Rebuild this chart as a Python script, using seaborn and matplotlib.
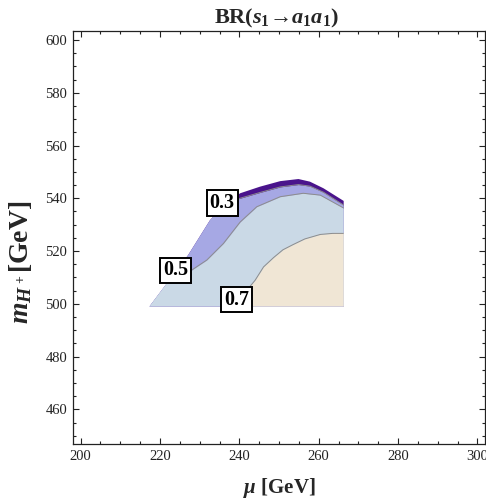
import matplotlib
matplotlib.use("Agg")
import matplotlib.pyplot as plt
from matplotlib.patches import Polygon
from matplotlib.ticker import MultipleLocator
import numpy as np
import seaborn as sns

# Outer boundary of the allowed (mu, m_H+) region: left/top edge, read left to right
edge_mu = [217.3, 221.7, 227.1, 232.6, 236.1, 240.2, 245.2, 250.3, 254.9, 257.8, 261.2, 266.3]
edge_mh = [498.9, 507.7, 518.5, 531.7, 537.3, 541.9, 544.4, 546.5, 547.3, 546.3, 543.8, 539.0]
floor_mh = 499.0

# Iso-BR contours (first point lies outside the region so each band reaches the left edge)
c03_mu = [210.0, 230.0, 234.0, 237.0, 239.7, 245.2, 250.3, 254.9, 257.8, 261.2, 266.3, 268.0]
c03_mh = [560.0, 530.0, 535.0, 538.0, 539.8, 542.2, 544.3, 545.2, 544.6, 542.3, 537.4, 536.0]

c05_mu = [210.0, 219.0, 223.0, 228.0, 231.8, 236.0, 240.2, 244.4, 250.3, 256.1, 260.4, 266.3, 268.0]
c05_mh = [530.0, 509.0, 509.5, 512.8, 516.6, 522.9, 531.0, 536.8, 540.6, 541.9, 541.2, 536.3, 535.0]

c07_mu = [210.0, 238.5, 240.5, 242.3, 244.0, 246.1, 248.6, 251.0, 253.6, 256.5, 260.4, 263.5, 266.3, 268.0]
c07_mh = [490.0, 497.0, 501.5, 505.9, 509.0, 514.0, 517.5, 520.5, 522.5, 524.6, 526.3, 526.7, 526.7, 526.7]

levels = ["0.3", "0.5", "0.7"]
label_mu = [235.7, 224.0, 239.35]
label_mh = [538.2, 512.7, 501.6]

band_colors = ["#4a148c", "#a6a8e4", "#cad9e6", "#f0e6d5"]

sns.set_theme(style="ticks")
plt.rcParams["font.family"] = ["Liberation Serif", "DejaVu Serif"]
plt.rcParams["mathtext.fontset"] = "custom"
plt.rcParams["mathtext.rm"] = "Liberation Serif:bold"
plt.rcParams["mathtext.it"] = "Liberation Serif:italic:bold"
plt.rcParams["mathtext.bf"] = "Liberation Serif:bold"

fig = plt.figure(figsize=(4.86, 5.0), dpi=100)
ax = fig.add_axes([0.1496, 0.112, 0.849, 0.8266])
ax.set_xlim(198, 302)
ax.set_ylim(446.9, 603.5)

# region outline, filled with the lowest band colour
outline = list(zip(edge_mu, edge_mh)) + [(edge_mu[-1], floor_mh), (edge_mu[0], floor_mh)]
region = Polygon(outline, closed=True, facecolor=band_colors[0], edgecolor="none", zorder=1)
ax.add_patch(region)

contours = [(c03_mu, c03_mh), (c05_mu, c05_mh), (c07_mu, c07_mh)]
for (cmu, cmh), col in zip(contours, band_colors[1:]):
    band = ax.fill_between(cmu, cmh, floor_mh - 5, color=col, lw=0, zorder=2)
    band.set_clip_path(region)

for cmu, cmh in contours:
    sns.lineplot(x=cmu, y=cmh, ax=ax, color="#8c8c8c", lw=0.7, sort=False, estimator=None, zorder=3)
    ax.lines[-1].set_clip_path(region)

for txt, lx, ly in zip(levels, label_mu, label_mh):
    ax.text(lx, ly, txt, ha="center", va="center", fontsize=14.5, fontweight="bold",
            color="black", zorder=5,
            bbox=dict(boxstyle="square,pad=0.14", facecolor="white", edgecolor="black", lw=1.4))

ax.xaxis.set_major_locator(MultipleLocator(20))
ax.xaxis.set_minor_locator(MultipleLocator(5))
ax.yaxis.set_major_locator(MultipleLocator(20))
ax.yaxis.set_minor_locator(MultipleLocator(5))
ax.tick_params(which="both", direction="in", top=True, right=True, colors="#222222",
               labelsize=10.5, width=0.8)
ax.tick_params(which="major", length=4.2, pad=4)
ax.tick_params(which="minor", length=2.2)
for s in ax.spines.values():
    s.set_color("#222222")
    s.set_linewidth(0.9)

ax.set_xlabel(r"$\mu$ [GeV]", fontsize=15, fontweight="bold")
ax.xaxis.set_label_coords(0.5, -0.077)
ax.set_ylabel(r"$m_{H^+}$[GeV]", fontsize=20, fontweight="bold")
ax.yaxis.set_label_coords(-0.093, 0.44)

fig.text(0.569, 0.964, r"BR($s_1$→$a_1a_1$)", ha="center", va="center",
         fontsize=16, fontweight="bold")

fig.savefig("out.png", dpi=100)
